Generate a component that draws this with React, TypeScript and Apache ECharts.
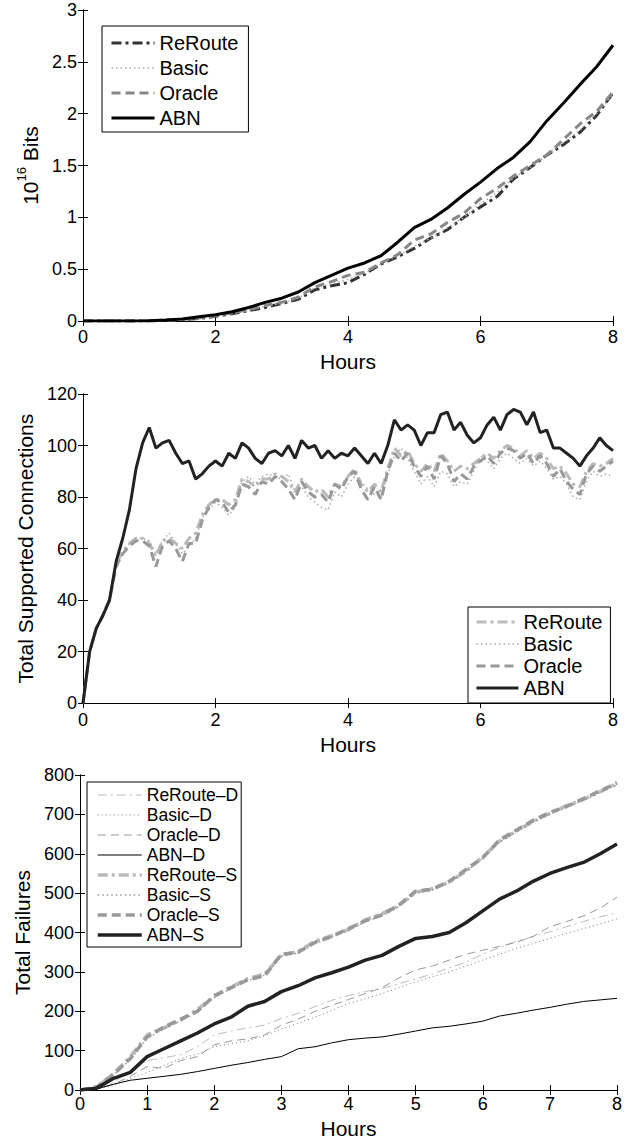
import React, { useEffect, useRef } from "react";
import * as echarts from "echarts";

const FONT = "Liberation Sans, Arial, Helvetica, sans-serif";

// ---------- Chart 1: transferred bits (10^16) ----------
const hours1 = [0, 0.25, 0.5, 0.75, 1, 1.25, 1.5, 1.75, 2, 2.25, 2.5, 2.75, 3, 3.25, 3.5, 3.75, 4, 4.25, 4.5, 4.75, 5, 5.25, 5.5, 5.75, 6, 6.25, 6.5, 6.75, 7, 7.25, 7.5, 7.75, 8];
const reroute1 = [0, 0, 0, 0, 0.001, 0.005, 0.012, 0.025, 0.045, 0.07, 0.1, 0.13, 0.17, 0.21, 0.3, 0.34, 0.37, 0.45, 0.55, 0.62, 0.7, 0.8, 0.88, 1.0, 1.1, 1.2, 1.37, 1.48, 1.6, 1.7, 1.82, 1.98, 2.2];
const basic1 = [0, 0, 0, 0, 0.001, 0.005, 0.012, 0.027, 0.047, 0.072, 0.1, 0.14, 0.17, 0.22, 0.32, 0.36, 0.4, 0.46, 0.55, 0.63, 0.72, 0.8, 0.9, 1.0, 1.13, 1.24, 1.38, 1.48, 1.6, 1.72, 1.84, 2.0, 2.18];
const oracle1 = [0, 0, 0, 0, 0.002, 0.008, 0.015, 0.03, 0.05, 0.08, 0.11, 0.15, 0.18, 0.23, 0.33, 0.38, 0.44, 0.47, 0.56, 0.64, 0.78, 0.84, 0.95, 1.04, 1.18, 1.28, 1.4, 1.5, 1.6, 1.75, 1.9, 2.02, 2.21];
const abn1 = [0, 0, 0, 0, 0.003, 0.01, 0.02, 0.04, 0.06, 0.09, 0.13, 0.18, 0.22, 0.28, 0.37, 0.44, 0.51, 0.56, 0.63, 0.76, 0.9, 0.98, 1.09, 1.22, 1.34, 1.47, 1.58, 1.73, 1.93, 2.1, 2.28, 2.45, 2.66];

// ---------- Chart 2: total supported connections ----------
const hours2 = [0, 0.1, 0.2, 0.3, 0.4, 0.5, 0.6, 0.7, 0.8, 0.9, 1, 1.1, 1.2, 1.3, 1.4, 1.5, 1.6, 1.7, 1.8, 1.9, 2, 2.1, 2.2, 2.3, 2.4, 2.5, 2.6, 2.7, 2.8, 2.9, 3, 3.1, 3.2, 3.3, 3.4, 3.5, 3.6, 3.7, 3.8, 3.9, 4, 4.1, 4.2, 4.3, 4.4, 4.5, 4.6, 4.7, 4.8, 4.9, 5, 5.1, 5.2, 5.3, 5.4, 5.5, 5.6, 5.7, 5.8, 5.9, 6, 6.1, 6.2, 6.3, 6.4, 6.5, 6.6, 6.7, 6.8, 6.9, 7, 7.1, 7.2, 7.3, 7.4, 7.5, 7.6, 7.7, 7.8, 7.9, 8];
const reroute2 = [0, 20, 29, 34, 40, 54, 59, 62, 64, 64, 62, 57, 63, 64, 62, 60, 64, 66, 73, 77, 79, 79, 77, 79, 87, 86, 84, 87, 87, 89, 88, 86, 82, 87, 84, 82, 83, 80, 85, 84, 88, 91, 85, 82, 85, 82, 91, 99, 96, 98, 93, 90, 93, 90, 97, 94, 90, 92, 91, 93, 95, 97, 95, 98, 100, 99, 96, 98, 95, 97, 95, 91, 92, 89, 85, 84, 90, 93, 92, 93, 95];
const basic2 = [0, 20, 29, 34, 40, 53, 58, 62, 64, 64, 63, 58, 63, 66, 62, 58, 61, 64, 72, 75, 78, 76, 73, 76, 86, 88, 85, 88, 89, 88, 87, 89, 82, 84, 80, 78, 76, 75, 82, 80, 85, 88, 86, 83, 81, 80, 89, 96, 99, 95, 90, 85, 88, 84, 90, 89, 84, 86, 85, 90, 96, 94, 91, 95, 97, 95, 93, 95, 92, 94, 91, 87, 88, 85, 80, 79, 86, 90, 88, 89, 88];
const oracle2 = [0, 20, 29, 34, 40, 53, 58, 61, 63, 63, 61, 53, 61, 63, 60, 55, 62, 62, 71, 76, 79, 78, 74, 77, 85, 84, 81, 86, 85, 88, 86, 83, 79, 86, 82, 80, 81, 78, 85, 83, 88, 90, 83, 79, 84, 79, 90, 97, 94, 97, 92, 88, 92, 87, 96, 93, 86, 89, 87, 92, 94, 96, 93, 97, 99, 98, 95, 97, 93, 96, 93, 88, 91, 86, 83, 81, 89, 92, 90, 92, 94];
const abn2 = [0, 20, 29, 34, 40, 55, 64, 75, 91, 101, 107, 99, 101, 102, 97, 93, 94, 87, 89, 92, 94, 92, 97, 95, 101, 99, 95, 93, 97, 98, 96, 100, 95, 102, 99, 100, 95, 98, 95, 97, 96, 99, 96, 93, 97, 93, 100, 110, 106, 108, 106, 100, 105, 105, 112, 113, 106, 109, 104, 101, 103, 108, 111, 106, 112, 114, 113, 108, 113, 105, 106, 99, 99, 97, 95, 92, 96, 99, 103, 100, 98];

// ---------- Chart 3: total failures ----------
const hours3 = [0, 0.25, 0.5, 0.75, 1, 1.25, 1.5, 1.75, 2, 2.25, 2.5, 2.75, 3, 3.25, 3.5, 3.75, 4, 4.25, 4.5, 4.75, 5, 5.25, 5.5, 5.75, 6, 6.25, 6.5, 6.75, 7, 7.25, 7.5, 7.75, 8];
const rerouteD = [0, 3, 20, 50, 75, 82, 90, 110, 140, 150, 158, 165, 182, 195, 212, 228, 240, 250, 258, 270, 282, 295, 310, 325, 345, 362, 378, 390, 402, 415, 428, 440, 450];
const basicD = [0, 2, 12, 30, 45, 62, 80, 92, 110, 118, 125, 138, 155, 170, 185, 202, 220, 232, 245, 260, 275, 288, 300, 315, 330, 345, 360, 372, 385, 398, 410, 422, 435];
const oracleD = [0, 3, 15, 35, 60, 55, 75, 85, 115, 125, 130, 140, 165, 180, 200, 215, 230, 245, 260, 285, 305, 315, 330, 345, 355, 365, 375, 390, 415, 428, 442, 462, 490];
const abnD = [0, 3, 15, 25, 30, 35, 40, 47, 55, 63, 70, 78, 85, 105, 110, 120, 128, 132, 135, 142, 150, 158, 162, 168, 175, 188, 195, 203, 210, 218, 225, 229, 233];
const rerouteS = [0, 8, 42, 85, 140, 158, 178, 205, 238, 262, 283, 295, 342, 352, 378, 392, 408, 432, 448, 468, 502, 512, 528, 556, 592, 632, 658, 682, 703, 722, 738, 758, 778];
const basicS = [0, 6, 38, 78, 132, 155, 176, 198, 235, 258, 278, 292, 340, 348, 372, 388, 405, 428, 442, 466, 500, 508, 526, 555, 588, 630, 655, 680, 700, 718, 736, 756, 775];
const oracleS = [0, 8, 40, 80, 135, 160, 180, 200, 240, 260, 280, 290, 345, 350, 375, 390, 410, 430, 445, 470, 505, 510, 530, 560, 590, 635, 660, 685, 705, 720, 740, 760, 780];
const abnS = [0, 5, 30, 45, 85, 105, 125, 145, 168, 185, 213, 225, 250, 265, 285, 298, 312, 330, 342, 365, 385, 390, 400, 425, 455, 485, 505, 530, 550, 565, 578, 600, 625];

const pairs = (xs: number[], ys: number[]) => xs.map((x, i) => [x, ys[i]]);

type Def = { name: string; xs: number[]; ys: number[]; color: string; width: number; type: any };

function seriesOf(defs: Def[]) {
  return defs.map((d) => ({
    name: d.name,
    type: "line",
    data: pairs(d.xs, d.ys),
    symbol: "none",
    xAxisIndex: 0,
    yAxisIndex: 0,
    lineStyle: { color: d.color, width: d.width, type: d.type },
    itemStyle: { color: d.color },
  }));
}

function axes(o: {
  xInterval: number;
  yMax: number;
  yInterval: number;
  xMargin: number;
  xNameGap: number;
  yName: any;
  yNameGap: number;
  yRich?: any;
}) {
  const axisLine = { show: true, lineStyle: { color: "#000", width: 1 } };
  const tick = { show: true, inside: true, length: 5, lineStyle: { color: "#000", width: 1 } };
  const lbl = { color: "#000", fontSize: 18, fontFamily: FONT };
  const title = { color: "#000", fontSize: 21, fontFamily: FONT };
  return {
    xAxis: [
      {
        type: "value", min: 0, max: 8, interval: o.xInterval, position: "bottom",
        axisLine, axisTick: tick, splitLine: { show: false },
        axisLabel: { ...lbl, margin: o.xMargin },
        name: "Hours", nameLocation: "middle", nameGap: o.xNameGap, nameTextStyle: title,
      },
      {
        type: "value", min: 0, max: 8, interval: o.xInterval, position: "top",
        axisLine, axisTick: tick, splitLine: { show: false }, axisLabel: { show: false },
      },
    ],
    yAxis: [
      {
        type: "value", min: 0, max: o.yMax, interval: o.yInterval, position: "left",
        axisLine, axisTick: tick, splitLine: { show: false },
        axisLabel: { ...lbl, margin: 6 },
        name: o.yName, nameLocation: "middle", nameGap: o.yNameGap,
        nameTextStyle: o.yRich ? { ...title, rich: o.yRich } : title,
      },
      {
        type: "value", min: 0, max: o.yMax, interval: o.yInterval, position: "right",
        axisLine, axisTick: tick, splitLine: { show: false }, axisLabel: { show: false },
      },
    ],
  };
}

function legend(left: number, top: number, defs: Def[], fontSize: number, lineHeight: number, itemGap: number, padding: number[], itemWidth: number) {
  return {
    orient: "vertical",
    left,
    top,
    data: defs.map((d) => ({
      name: d.name,
      lineStyle: { width: d.width, color: d.color, type: d.type },
    })),
    itemWidth,
    itemHeight: 12,
    itemGap,
    padding,
    selectedMode: false,
    borderColor: "#000",
    borderWidth: 1,
    borderRadius: 0,
    backgroundColor: "#fff",
    itemStyle: { opacity: 0 },
    textStyle: { color: "#000", fontSize, lineHeight, fontFamily: FONT },
  };
}

const DASHDOT = [10, 4, 3, 4];
const DOT = [1.5, 3];
const DASH = [9, 5];

function option1() {
  const defs: Def[] = [
    { name: "ReRoute", xs: hours1, ys: reroute1, color: "#333333", width: 3, type: DASHDOT },
    { name: "Basic", xs: hours1, ys: basic1, color: "#aaaaaa", width: 1.5, type: DOT },
    { name: "Oracle", xs: hours1, ys: oracle1, color: "#888888", width: 3, type: DASH },
    { name: "ABN", xs: hours1, ys: abn1, color: "#000000", width: 3, type: "solid" },
  ];
  return {
    animation: false,
    grid: { left: 83, top: 10, width: 530, height: 311 },
    ...axes({
      xInterval: 2, yMax: 3, yInterval: 0.5, xMargin: 7, xNameGap: 26,
      yName: "{a|10}{b|16}{a| Bits}", yNameGap: 40,
      yRich: {
        a: { fontSize: 21, fontFamily: FONT, color: "#000", lineHeight: 26, verticalAlign: "bottom" },
        b: { fontSize: 13, fontFamily: FONT, color: "#000", lineHeight: 26, verticalAlign: "top" },
      },
    }),
    legend: legend(102, 26, defs, 20, 20, 5, [7, 10, 4, 8], 43),
    series: seriesOf(defs),
  };
}

function option2() {
  const defs: Def[] = [
    { name: "ReRoute", xs: hours2, ys: reroute2, color: "#bbbbbb", width: 3, type: DASHDOT },
    { name: "Basic", xs: hours2, ys: basic2, color: "#aaaaaa", width: 1.5, type: DOT },
    { name: "Oracle", xs: hours2, ys: oracle2, color: "#999999", width: 3, type: DASH },
    { name: "ABN", xs: hours2, ys: abn2, color: "#222222", width: 3, type: "solid" },
  ];
  return {
    animation: false,
    grid: { left: 83, top: 14, width: 530, height: 316 },
    ...axes({
      xInterval: 2, yMax: 120, yInterval: 20, xMargin: 8, xNameGap: 26,
      yName: "Total Supported Connections", yNameGap: 44,
    }),
    legend: legend(468, 227, defs, 20, 20, 2, [5, 8, 5, 7], 42),
    series: seriesOf(defs),
  };
}

function option3() {
  const defs: Def[] = [
    { name: "ReRoute\u2013D", xs: hours3, ys: rerouteD, color: "#bbbbbb", width: 1, type: [9, 4, 2, 4] },
    { name: "Basic\u2013D", xs: hours3, ys: basicD, color: "#777777", width: 1, type: [1, 3] },
    { name: "Oracle\u2013D", xs: hours3, ys: oracleD, color: "#999999", width: 1, type: [8, 5] },
    { name: "ABN\u2013D", xs: hours3, ys: abnD, color: "#000000", width: 1, type: "solid" },
    { name: "ReRoute\u2013S", xs: hours3, ys: rerouteS, color: "#bbbbbb", width: 3.5, type: DASHDOT },
    { name: "Basic\u2013S", xs: hours3, ys: basicS, color: "#999999", width: 1.5, type: DOT },
    { name: "Oracle\u2013S", xs: hours3, ys: oracleS, color: "#999999", width: 3.5, type: DASH },
    { name: "ABN\u2013S", xs: hours3, ys: abnS, color: "#222222", width: 3.5, type: "solid" },
  ];
  return {
    animation: false,
    grid: { left: 80, top: 15, width: 537, height: 321 },
    ...axes({
      xInterval: 1, yMax: 800, yInterval: 100, xMargin: 5, xNameGap: 23,
      yName: "Total Failures", yNameGap: 41,
    }),
    legend: legend(87, 22, defs, 17.5, 18, 2, [4, 3, 3, 9], 44),
    series: seriesOf(defs),
  };
}

function Chart({ top, height, option }: { top: number; height: number; option: () => any }) {
  const ref = useRef<HTMLDivElement>(null);
  useEffect(() => {
    if (!ref.current) return;
    const chart = echarts.init(ref.current, undefined, { renderer: "svg" });
    chart.setOption(option());
    return () => chart.dispose();
  }, []);
  return <div ref={ref} style={{ position: "absolute", left: 0, top, width: 629, height }} />;
}

export default function App() {
  return (
    <div style={{ position: "absolute", left: 0, top: 0, width: 629, height: 1144, background: "#fff" }}>
      <Chart top={0} height={380} option={option1} />
      <Chart top={380} height={380} option={option2} />
      <Chart top={760} height={384} option={option3} />
    </div>
  );
}
